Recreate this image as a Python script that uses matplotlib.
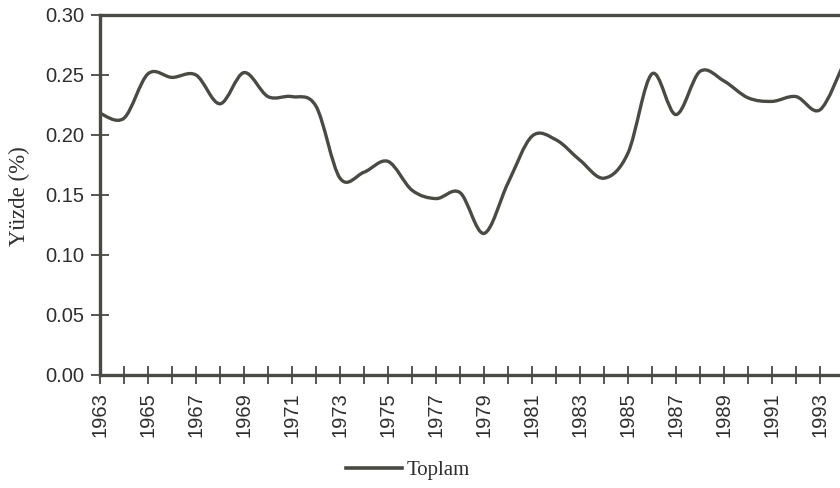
import numpy as np
import matplotlib.pyplot as plt
from matplotlib.path import Path
from matplotlib.patches import PathPatch
from matplotlib.lines import Line2D

# Veriler
years = list(range(1963, 1995))
toplam = [0.218, 0.214, 0.251, 0.248, 0.250, 0.226, 0.252, 0.232,
          0.232, 0.224, 0.164, 0.169, 0.178, 0.154, 0.147, 0.152,
          0.118, 0.160, 0.199, 0.196, 0.179, 0.164, 0.185, 0.251,
          0.217, 0.253, 0.245, 0.231, 0.228, 0.232, 0.221, 0.260]
yticks = [0.00, 0.05, 0.10, 0.15, 0.20, 0.25, 0.30]

ink = '#4a4a44'
text_col = '#2e2e2e'


def smooth_path(x, y):
    # Excel tarzı yumuşatılmış çizgi (Bezier kontrol noktaları)
    x = np.asarray(x, float)
    y = np.asarray(y, float)
    n = len(x)
    verts = [(x[0], y[0])]
    codes = [Path.MOVETO]
    for i in range(n - 1):
        p0 = i - 1 if i > 0 else i
        p3 = i + 2 if i + 2 < n else i + 1
        c1 = (x[i] + (x[i + 1] - x[p0]) / 6, y[i] + (y[i + 1] - y[p0]) / 6)
        c2 = (x[i + 1] - (x[p3] - x[i]) / 6, y[i + 1] - (y[p3] - y[i]) / 6)
        verts += [c1, c2, (x[i + 1], y[i + 1])]
        codes += [Path.CURVE4] * 3
    return Path(verts, codes)


fig = plt.figure(figsize=(8.4, 4.88), dpi=100)
ax = fig.add_axes([100 / 840, 1 - 375 / 488, 740 / 840, 360 / 488])

patch = PathPatch(smooth_path(years, toplam), facecolor='none',
                  edgecolor=ink, lw=2.4, capstyle='round', joinstyle='round')
ax.add_patch(patch)

ax.set_xlim(1963, 1963 + 740 / 24)
ax.set_ylim(0, 0.30)

# Eksenler
for side in ['left', 'bottom', 'top']:
    ax.spines[side].set_color(ink)
    ax.spines[side].set_linewidth(2.4)
ax.spines['right'].set_visible(False)

ax.set_yticks(yticks)
ax.set_yticklabels([f'{v:.2f}' for v in yticks])
ax.set_xticks(years[:-1])
ax.set_xticklabels([str(y) if (y - 1963) % 2 == 0 else '' for y in years[:-1]],
                   rotation=90)
ax.tick_params(axis='both', direction='inout', length=13, width=1.3,
               color=ink, labelcolor=text_col, labelsize=14.5,
               top=False, right=False)
ax.tick_params(axis='y', pad=5)
ax.tick_params(axis='x', pad=6)
for lab in ax.get_xticklabels() + ax.get_yticklabels():
    lab.set_family('Liberation Sans')

ax.set_ylabel('Yüzde (%)', family='Liberation Serif', fontsize=16.5,
              color=text_col)
ax.yaxis.set_label_coords(-70 / 740, (375 - 196) / 360)

# Lejant
handle = Line2D([], [], color=ink, lw=2.6)
fig.legend([handle], ['Toplam'], loc='center',
           bbox_to_anchor=(408 / 840, 1 - 470 / 488), frameon=False,
           handlelength=2.7, handletextpad=0.2,
           prop={'family': 'Liberation Serif', 'size': 15},
           labelcolor=text_col)

fig.savefig('out.png', dpi=100)
